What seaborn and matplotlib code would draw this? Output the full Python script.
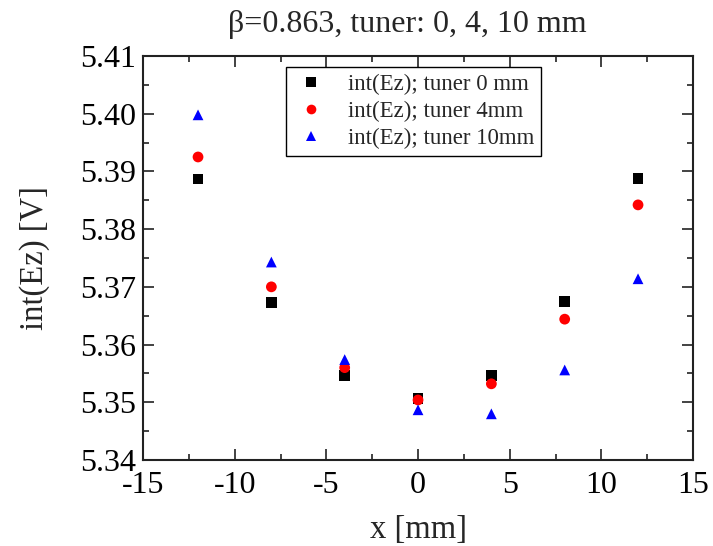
import numpy as np
import pandas as pd
import matplotlib
matplotlib.use("Agg")
import matplotlib.pyplot as plt
from matplotlib.ticker import MultipleLocator, AutoMinorLocator, FormatStrFormatter
import seaborn as sns

x_mm = [-12, -8, -4, 0, 4, 8, 12]
tuner0 = [5.3887, 5.3673, 5.3547, 5.3506, 5.3547, 5.3674, 5.3888]
tuner4 = [5.3925, 5.3700, 5.3560, 5.3504, 5.3532, 5.3644, 5.3842]
tuner10 = [5.3998, 5.3743, 5.3574, 5.3487, 5.3480, 5.3556, 5.3714]
labels = ["int(Ez); tuner 0 mm", "int(Ez); tuner 4mm", "int(Ez); tuner 10mm"]

df = pd.DataFrame({
    "x": x_mm * 3,
    "y": tuner0 + tuner4 + tuner10,
    "series": [labels[0]] * 7 + [labels[1]] * 7 + [labels[2]] * 7,
})

sns.set_theme(style="ticks")
plt.rcParams["font.family"] = ["Liberation Serif", "DejaVu Serif"]
plt.rcParams["axes.unicode_minus"] = False

fig = plt.figure(figsize=(7.13, 5.46), dpi=100)
ax = fig.add_axes([0.2006, 0.1575, 0.7714, 0.74])

sns.scatterplot(data=df, x="x", y="y", hue="series", style="series",
                hue_order=labels, style_order=labels,
                palette=["black", "#ff0000", "#0000ff"],
                markers={labels[0]: "s", labels[1]: "o", labels[2]: "^"},
                s=60, edgecolor="none", linewidth=0, ax=ax)

ax.set_xlim(-15, 15)
ax.set_ylim(5.34, 5.41)
ax.xaxis.set_major_locator(MultipleLocator(5))
ax.xaxis.set_minor_locator(AutoMinorLocator(2))
ax.yaxis.set_major_locator(MultipleLocator(0.01))
ax.yaxis.set_minor_locator(AutoMinorLocator(2))
ax.yaxis.set_major_formatter(FormatStrFormatter("%.2f"))
ax.tick_params(which="both", direction="in", top=True, right=True, width=1.2, colors="#222222")
ax.tick_params(which="major", length=8, labelsize=23, labelcolor="black", pad=5)
ax.tick_params(axis="x", which="major", pad=8)
ax.tick_params(which="minor", length=4.5)
for sp in ax.spines.values():
    sp.set_linewidth(1.5)
    sp.set_color("#222222")

ax.set_xlabel("x [mm]", fontsize=23.5, labelpad=10)
ax.set_ylabel("int(Ez) [V]", fontsize=23.5, labelpad=22)
ax.set_title("β=0.863, tuner: 0, 4, 10 mm", fontsize=23, pad=17, x=0.48)

leg = ax.legend(loc="upper left", bbox_to_anchor=(0.26, 0.973), fontsize=16.5,
                frameon=True, fancybox=False, edgecolor="black", framealpha=1,
                borderpad=0.3, labelspacing=0.25, handletextpad=0.8, markerscale=0.9,
                borderaxespad=0, handlelength=1.6)
leg.get_frame().set_linewidth(1.0)

fig.savefig("out.png", dpi=100)
